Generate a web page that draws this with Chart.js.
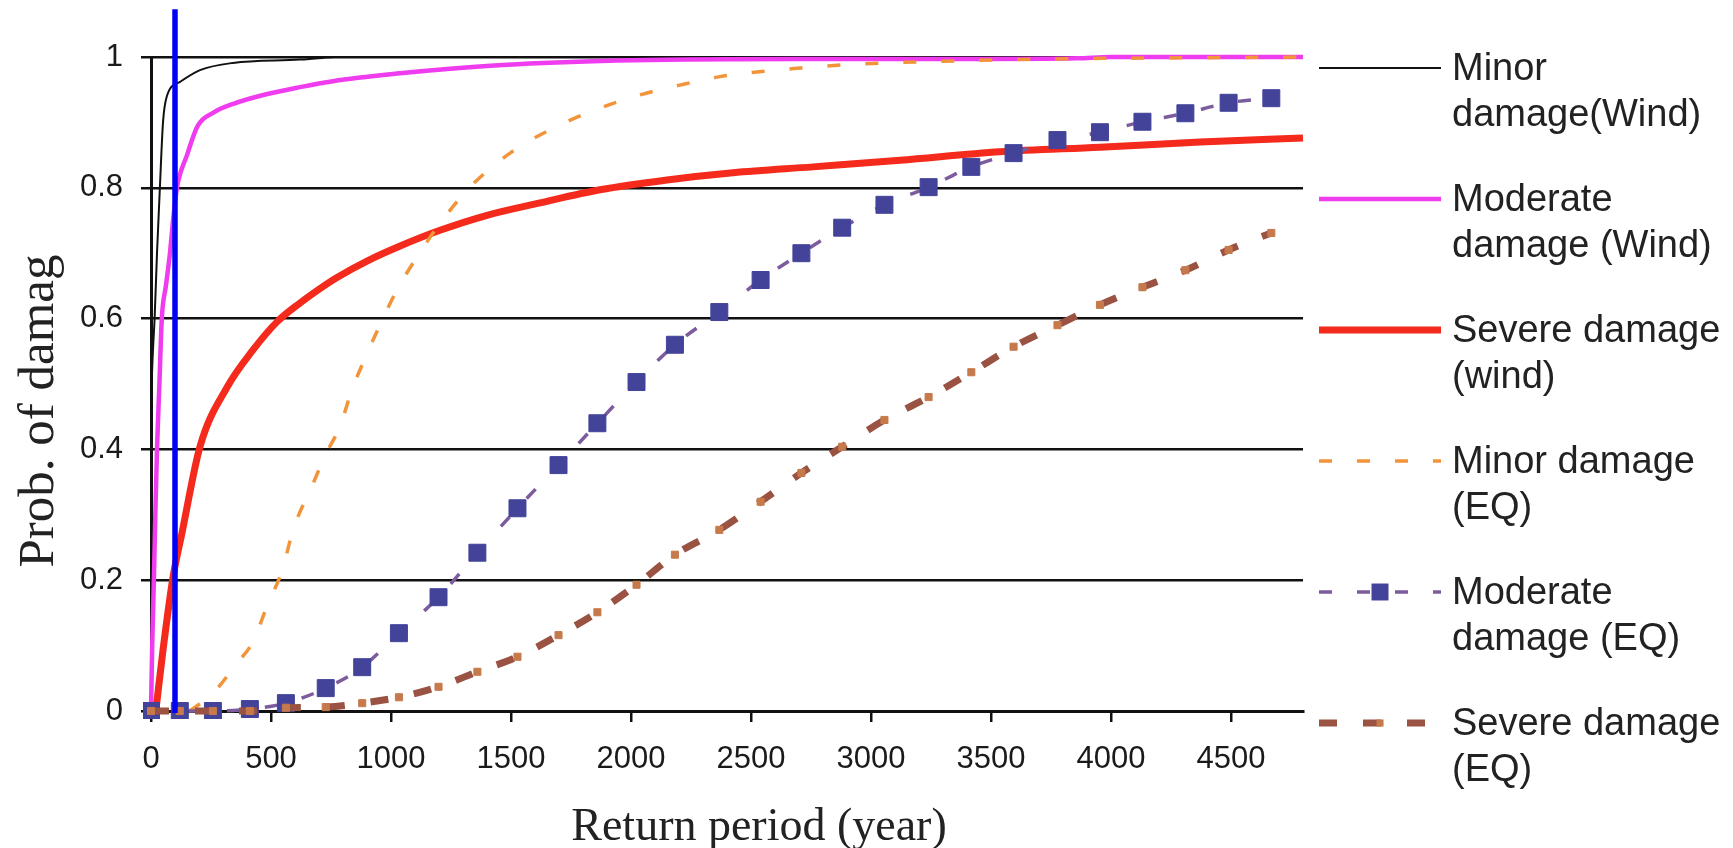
<!DOCTYPE html>
<html>
<head>
<meta charset="utf-8">
<title>Prob. of damage vs return period</title>
<script src="https://cdn.jsdelivr.net/npm/chart.js@4.4.1/dist/chart.umd.min.js"></script>
<style>
  html, body { margin: 0; padding: 0; background: #fff; }
  #wrap { width: 1733px; height: 848px; }
</style>
</head>
<body>
<div id="wrap"><canvas id="chart1" width="1733" height="848"></canvas></div>
<script>
// values (x = return period in years, y = probability)
const xTicks = [0, 500, 1000, 1500, 2000, 2500, 3000, 3500, 4000, 4500];
const yTicks = [0, 0.2, 0.4, 0.6, 0.8, 1];

const minorWindX = [0, 3, 8, 15, 25, 37, 50, 66, 121, 204, 342, 621, 760];
const minorWindY = [0.43, 0.5, 0.55, 0.6, 0.7, 0.8, 0.9, 0.94, 0.962, 0.98, 0.991, 0.996, 1.0];

const moderateWindX = [0, 5, 12, 18, 25, 35, 45, 62, 79, 92, 108, 150, 195, 260, 340, 480, 621, 758, 1038, 1246, 1525, 2008, 2704, 3400, 3858, 4000, 4800];
const moderateWindY = [0, 0.1, 0.2, 0.3, 0.4, 0.5, 0.6, 0.65, 0.7, 0.75, 0.8, 0.85, 0.895, 0.915, 0.928, 0.943, 0.954, 0.963, 0.975, 0.982, 0.989, 0.995, 0.997, 0.997, 0.998, 1.0, 1.0];

const severeWindX = [20, 50, 92, 129, 204, 317, 425, 525, 621, 704, 775, 900, 1038, 1204, 1400, 1621, 1871, 2150, 2425, 2758, 3121, 3537, 3954, 4371, 4800];
const severeWindY = [0, 0.093, 0.205, 0.272, 0.404, 0.495, 0.552, 0.595, 0.624, 0.646, 0.663, 0.688, 0.711, 0.735, 0.758, 0.777, 0.797, 0.812, 0.823, 0.832, 0.842, 0.855, 0.862, 0.87, 0.876];

const minorEqX = [0, 150, 200, 258, 358, 425, 488, 546, 592, 671, 725, 788, 838, 883, 946, 1025, 1108, 1217, 1329, 1496, 1675, 1850, 2038, 2204, 2371, 2546, 2704, 2883, 3067, 3246, 3600, 4000, 4400, 4800];
const minorEqY = [0, 0, 0.01, 0.027, 0.073, 0.106, 0.165, 0.214, 0.277, 0.344, 0.39, 0.436, 0.492, 0.532, 0.584, 0.644, 0.694, 0.752, 0.801, 0.853, 0.891, 0.919, 0.942, 0.957, 0.97, 0.978, 0.983, 0.988, 0.991, 0.993, 0.996, 0.998, 0.999, 1.0];

// both marker series share the same return periods
const eqX = [0, 120, 258, 412, 562, 728, 880, 1033, 1198, 1360, 1527, 1698, 1860, 2023, 2183, 2368, 2540, 2710, 2880, 3056, 3240, 3418, 3594, 3777, 3954, 4131, 4310, 4490, 4668];
const moderateEqY = [0, 0, 0, 0.003, 0.012, 0.035, 0.067, 0.119, 0.174, 0.242, 0.31, 0.376, 0.44, 0.503, 0.56, 0.61, 0.659, 0.7, 0.739, 0.774, 0.801, 0.832, 0.853, 0.873, 0.885, 0.901, 0.914, 0.93, 0.937];
const severeEqY = [0, 0, 0, 0, 0.005, 0.006, 0.012, 0.021, 0.037, 0.06, 0.083, 0.116, 0.151, 0.193, 0.239, 0.277, 0.32, 0.364, 0.404, 0.445, 0.48, 0.518, 0.557, 0.59, 0.621, 0.648, 0.674, 0.705, 0.731];

// the blue marker line at 100 years
const markX = [100, 100];
const markY = [-0.003, 1.073];

const legendLabels = [
  ['Minor', 'damage(Wind)'],
  ['Moderate', 'damage (Wind)'],
  ['Severe damage', '(wind)'],
  ['Minor damage', '(EQ)'],
  ['Moderate', 'damage (EQ)'],
  ['Severe damage', '(EQ)']
];

function pts(xs, ys) {
  return xs.map((x, i) => ({ x: x, y: ys[i] }));
}

const sans = "'Liberation Sans', Arial, sans-serif";
const serif = "'Liberation Serif', 'Times New Roman', serif";

const datasets = [
  { label: legendLabels[0].join(' '), data: pts(minorWindX, minorWindY), borderColor: '#111111', borderWidth: 2, order: 6 },
  { label: legendLabels[1].join(' '), data: pts(moderateWindX, moderateWindY), borderColor: '#ee3cee', borderWidth: 4.5, order: 5 },
  { label: legendLabels[2].join(' '), data: pts(severeWindX, severeWindY), borderColor: '#f42a1c', borderWidth: 7, order: 4 },
  { label: legendLabels[3].join(' '), data: pts(minorEqX, minorEqY), borderColor: '#f2943a', borderWidth: 3.5, borderDash: [13, 25], order: 3 },
  { label: legendLabels[4].join(' '), data: pts(eqX, moderateEqY), borderColor: '#7c5c9c', borderWidth: 3.5, borderDash: [13, 25], order: 2,
    pointStyle: 'rect', pointRadius: 12, pointBackgroundColor: '#43439a', pointBorderColor: '#43439a', pointBorderWidth: 1 },
  { label: legendLabels[5].join(' '), data: pts(eqX, severeEqY), borderColor: '#9a5242', borderWidth: 7, borderDash: [18, 26], order: 1,
    pointStyle: 'rect', pointRadius: 5, pointBackgroundColor: '#c67a4c', pointBorderColor: '#c67a4c', pointBorderWidth: 1 }
];
datasets.forEach(d => {
  d.showLine = true;
  d.fill = false;
  d.clip = 8;
  d.cubicInterpolationMode = 'monotone';
  if (d.pointRadius === undefined) d.pointRadius = 0;
});
datasets.push({ label: 'mark', data: pts(markX, markY), borderColor: '#0000f5', borderWidth: 5.5,
  pointRadius: 0, showLine: true, clip: false, order: 0, noLegend: true });

// legend on the right and the two axis titles
const sideText = {
  id: 'sideText',
  afterDraw(chart) {
    const ctx = chart.ctx;
    ctx.save();
    chart.data.datasets.forEach((ds, i) => {
      if (ds.noLegend) return;
      const y = 68 + i * 131;
      ctx.strokeStyle = ds.borderColor;
      ctx.lineWidth = ds.borderWidth;
      ctx.setLineDash(ds.borderDash || []);
      ctx.beginPath();
      ctx.moveTo(1319, y);
      ctx.lineTo(1441, y);
      ctx.stroke();
      ctx.setLineDash([]);
      if (ds.pointRadius > 0) {
        const s = ds.pointRadius * Math.SQRT1_2;
        ctx.fillStyle = ds.pointBackgroundColor;
        ctx.fillRect(1380 - s, y - s, 2 * s, 2 * s);
      }
      ctx.fillStyle = '#222';
      ctx.font = '38px ' + sans;
      ctx.textAlign = 'left';
      ctx.textBaseline = 'alphabetic';
      ctx.fillText(legendLabels[i][0], 1452, y + 12);
      ctx.fillText(legendLabels[i][1], 1452, y + 58);
    });

    ctx.fillStyle = '#222';
    ctx.font = '46px ' + serif;
    ctx.textAlign = 'center';
    ctx.textBaseline = 'alphabetic';
    ctx.fillText('Return period (year)', 759, 840);

    ctx.font = '51px ' + serif;
    ctx.translate(53, 411);
    ctx.rotate(-Math.PI / 2);
    ctx.fillText('Prob. of damag', 0, 0);
    ctx.restore();
  }
};

const ctx = document.getElementById('chart1');
new Chart(ctx, {
  type: 'scatter',
  data: { datasets: datasets },
  options: {
    responsive: false,
    animation: false,
    devicePixelRatio: 1,
    layout: { padding: { left: 0, top: 57, right: 430, bottom: 0 } },
    plugins: {
      legend: { display: false },
      tooltip: { enabled: false }
    },
    scales: {
      x: {
        type: 'linear',
        min: 0,
        max: 4800,
        afterFit: s => { s.height = 137; },
        afterBuildTicks: s => { s.ticks = xTicks.map(v => ({ value: v })); },
        grid: { drawOnChartArea: false, drawTicks: true, tickLength: 11, color: '#111', lineWidth: 2.5 },
        border: { display: true, color: '#111', width: 3 },
        ticks: {
          font: { family: sans, size: 31 },
          color: '#1a1a1a',
          padding: 19,
          maxRotation: 0,
          autoSkip: false,
          callback: v => String(v)
        }
      },
      y: {
        min: 0,
        max: 1,
        afterFit: s => { s.width = 151; },
        afterBuildTicks: s => { s.ticks = yTicks.map(v => ({ value: v })); },
        grid: { drawTicks: true, tickLength: 10, color: '#111', lineWidth: 2.5 },
        border: { display: true, color: '#111', width: 3 },
        ticks: {
          font: { family: sans, size: 31 },
          color: '#1a1a1a',
          padding: 18,
          autoSkip: false,
          callback: v => String(v)
        }
      }
    }
  },
  plugins: [sideText]
});
</script>
</body>
</html>
